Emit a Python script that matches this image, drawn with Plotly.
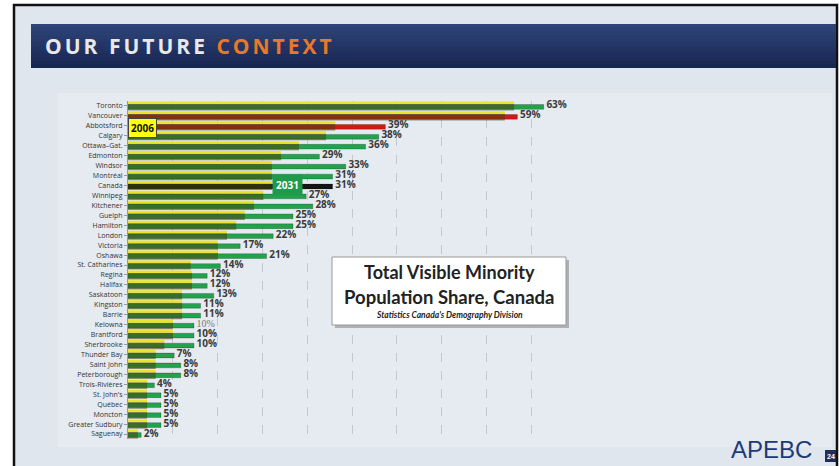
import plotly.graph_objects as go

# data (bar lengths in the chart's own % scale)
cities = [
    "Toronto", "Vancouver", "Abbotsford", "Calgary", "Ottawa–Gat.", "Edmonton",
    "Windsor", "Montréal", "Canada", "Winnipeg", "Kitchener", "Guelph",
    "Hamilton", "London", "Victoria", "Oshawa", "St. Catharines", "Regina",
    "Halifax", "Saskatoon", "Kingston", "Barrie", "Kelowna", "Brantford",
    "Sherbrooke", "Thunder Bay", "Saint John", "Peterborough", "Trois-Rivières",
    "St. John's", "Québec", "Moncton", "Greater Sudbury", "Saguenay",
]
share_2031 = [63, 59, 39, 38, 36, 29, 33, 31, 31, 27, 28, 25, 25, 22, 17, 21, 14,
              12, 12, 13, 11, 11, 10, 10, 10, 7, 8, 8, 4, 5, 5, 5, 5, 2]
share_2006 = [58.5, 57.1, 31.4, 30.0, 25.9, 23.2, 21.8, 21.8, 21.8, 20.5, 19.1,
              17.7, 16.4, 15.0, 13.6, 13.6, 9.5, 9.7, 9.7, 8.2, 8.2, 8.2, 6.8,
              6.8, 5.5, 4.2, 4.2, 4.2, 2.9, 2.9, 2.9, 2.9, 2.9, 1.5]

W, H = 839, 466
L, R, T, B = 128, 576, 101, 439


def px(x):
    return (x - L) / (R - L)


def py(y):
    return (B - y) / (B - T)


green_colors = []
for c in cities:
    if c in ("Vancouver", "Abbotsford"):
        green_colors.append("#d11a12")
    elif c == "Canada":
        green_colors.append("#151515")
    else:
        green_colors.append("#22a24c")

fig = go.Figure()

# 2031 bars (under)
fig.add_trace(go.Bar(
    y=cities, x=share_2031, orientation="h", offset=-0.14, width=0.48,
    marker=dict(color=green_colors, line=dict(color="rgba(0,0,0,0.35)", width=0.6)),
    hoverinfo="skip",
))
# 2006 bars: dark olive body + yellow top stripe
fig.add_trace(go.Bar(
    y=cities, x=share_2006, orientation="h", offset=-0.22, width=0.68,
    marker=dict(color="rgba(70,70,15,0.55)", line=dict(width=0)),
    hoverinfo="skip",
))
fig.add_trace(go.Bar(
    y=cities, x=share_2006, orientation="h", offset=-0.46, width=0.26,
    marker=dict(color="#ebe42e", line=dict(width=0)),
    hoverinfo="skip",
))

# value labels
fams = ["Liberation Serif" if c == "Kelowna" else "Open Sans" for c in cities]
cols = ["#777777" if c == "Kelowna" else "#3a3a3a" for c in cities]
labels = [f" {v}%" if c == "Kelowna" else f" <b>{v}%</b>" for c, v in zip(cities, share_2031)]
fig.add_trace(go.Scatter(
    y=cities, x=share_2031, mode="text", text=labels,
    textposition="middle right",
    textfont=dict(family=fams, color=cols, size=10),
    hoverinfo="skip", cliponaxis=False,
))

shapes = []
# slide background pieces
shapes.append(dict(type="rect", xref="paper", yref="paper", x0=px(14), x1=px(837),
                   y0=py(470), y1=py(5), fillcolor="#dfe6ee",
                   line=dict(color="#111111", width=2.5), layer="below"))
shapes.append(dict(type="rect", xref="paper", yref="paper", x0=px(58), x1=px(832),
                   y0=py(447), y1=py(93), fillcolor="#e5ebf1",
                   line=dict(width=0), layer="below"))
# header bar gradient
top_c = (47, 69, 121)
bot_c = (24, 38, 82)
n = 12
for i in range(n):
    t = i / (n - 1)
    c = tuple(int(top_c[k] + (bot_c[k] - top_c[k]) * t) for k in range(3))
    y0 = 24 + 44 * i / n
    y1 = min(68, 24 + 44 * (i + 1) / n + 1)
    shapes.append(dict(type="rect", xref="paper", yref="paper", x0=px(31), x1=px(836),
                       y0=py(y1), y1=py(y0), fillcolor="rgb(%d,%d,%d)" % c,
                       line=dict(width=0), layer="below"))
# title box with shadow
shapes.append(dict(type="rect", xref="paper", yref="paper", x0=px(335), x1=px(569),
                   y0=py(328), y1=py(260), fillcolor="rgba(90,90,90,0.4)",
                   line=dict(width=0), layer="above"))
shapes.append(dict(type="rect", xref="paper", yref="paper", x0=px(332), x1=px(566),
                   y0=py(325), y1=py(257), fillcolor="white",
                   line=dict(color="#9a9a9a", width=1), layer="above"))
# page number badge
shapes.append(dict(type="rect", xref="paper", yref="paper", x0=px(825), x1=px(836),
                   y0=py(462), y1=py(450), fillcolor="#1f2f5a",
                   line=dict(width=0), layer="above"))

annotations = [
    dict(x=px(43), y=py(46), xref="paper", yref="paper", xanchor="left", yanchor="middle",
         showarrow=False,
         text='<b><span style="letter-spacing:3px">OUR FUTURE </span>'
              '<span style="letter-spacing:3px;color:#e8782a">CONTEXT</span></b>',
         font=dict(family="Open Sans", size=21, color="#e9e9e9")),
    dict(x=px(128), y=py(127.5), xref="paper", yref="paper", xanchor="left", yanchor="middle",
         showarrow=False, text="<b>2006</b>", bgcolor="#ffff10", bordercolor="#444444",
         borderwidth=1, borderpad=2, font=dict(family="Open Sans", size=10, color="#111111")),
    dict(x=px(272), y=py(185), xref="paper", yref="paper", xanchor="left", yanchor="middle",
         showarrow=False, text="<b>2031</b>", bgcolor="#1e9a4a", borderpad=3,
         font=dict(family="Open Sans", size=10, color="white")),
    dict(x=px(449), y=py(272), xref="paper", yref="paper", xanchor="center", yanchor="middle",
         showarrow=False, text="<b>Total Visible Minority</b>",
         font=dict(family="Lato", size=18, color="#222222")),
    dict(x=px(449), y=py(297), xref="paper", yref="paper", xanchor="center", yanchor="middle",
         showarrow=False, text="<b>Population Share, Canada</b>",
         font=dict(family="Lato", size=18.5, color="#222222")),
    dict(x=px(449), y=py(315), xref="paper", yref="paper", xanchor="center", yanchor="middle",
         showarrow=False, text="<b><i>Statistics Canada's Demography Division</i></b>",
         font=dict(family="Lato", size=8.5, color="#222222")),
    dict(x=px(729), y=py(449), xref="paper", yref="paper", xanchor="left", yanchor="middle",
         showarrow=False, text="APEBC",
         font=dict(family="Liberation Sans", size=24, color="#1e3b78")),
    dict(x=px(830.5), y=py(456), xref="paper", yref="paper", xanchor="center", yanchor="middle",
         showarrow=False, text="<b>24</b>",
         font=dict(family="Liberation Sans", size=7, color="white")),
]

fig.update_layout(
    width=W, height=H,
    margin=dict(l=L, r=W - R, t=T, b=H - B, pad=0),
    paper_bgcolor="white",
    plot_bgcolor="rgba(0,0,0,0)",
    barmode="overlay",
    showlegend=False,
    shapes=shapes,
    annotations=annotations,
    xaxis=dict(range=[0, (R - L) / 6.6], showticklabels=False, zeroline=False,
               showgrid=True, gridcolor="#c4c8cc", griddash="dash", gridwidth=1,
               tick0=0, dtick=44.8 / 6.6, showline=False, fixedrange=True),
    yaxis=dict(range=[len(cities) - 0.5, -0.5], showline=True, linecolor="#9a9a9a",
               linewidth=1, ticks="outside", ticklen=3, tickcolor="#9a9a9a",
               showgrid=False,
               tickfont=dict(family="Open Sans", size=7, color="#333333")),
)

fig.write_html("out.html", config={"displayModeBar": False},
               post_script="document.body.style.margin='0';")
